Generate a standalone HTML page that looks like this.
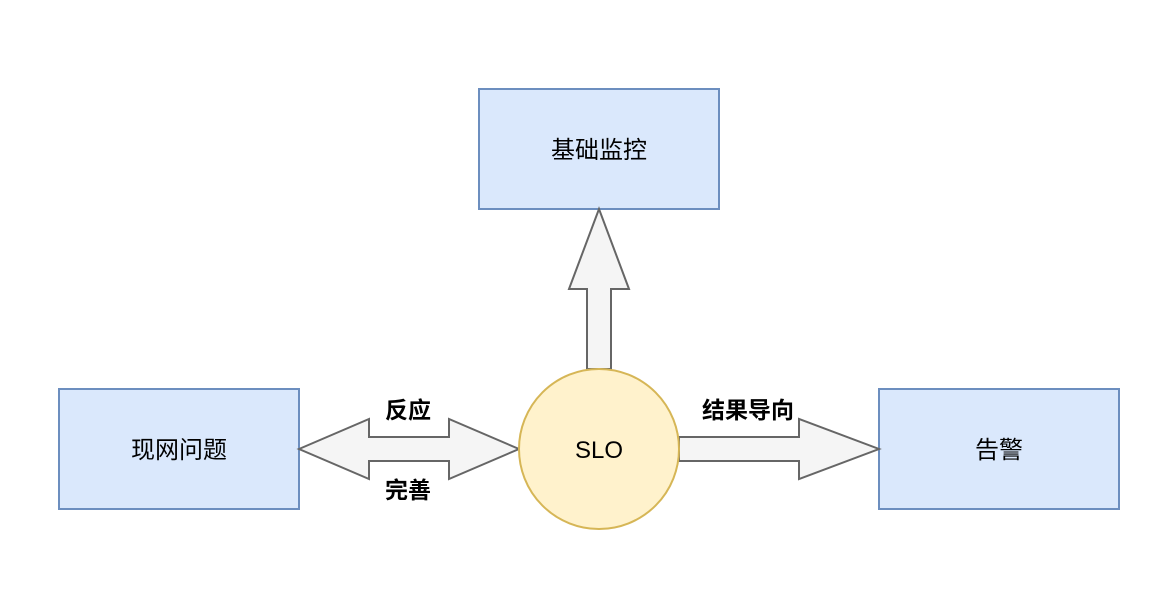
<!DOCTYPE html>
<html><head><meta charset="utf-8"><style>
html,body{margin:0;padding:0;background:#fff;}
svg text{font-family:"Liberation Sans","Noto Sans CJK SC",sans-serif;}
</style></head><body>
<svg width="1176" height="610" viewBox="0 0 1176 610" xmlns="http://www.w3.org/2000/svg">
<rect x="479" y="89" width="240" height="120" fill="#dae8fc" stroke="#6c8ebf" stroke-width="2"/>
<text x="599" y="158" font-size="24" text-anchor="middle">基础监控</text>
<rect x="59" y="389" width="240" height="120" fill="#dae8fc" stroke="#6c8ebf" stroke-width="2"/>
<text x="179" y="458" font-size="24" text-anchor="middle">现网问题</text>
<rect x="879" y="389" width="240" height="120" fill="#dae8fc" stroke="#6c8ebf" stroke-width="2"/>
<text x="999" y="458" font-size="24" text-anchor="middle">告警</text>
<polygon points="587,369 587,289 569,289 599,209 629,289 611,289 611,369" fill="#f5f5f5" stroke="#666" stroke-width="2"/>
<polygon points="299,449 369,419 369,437 449,437 449,419 519,449 449,479 449,461 369,461 369,479" fill="#f5f5f5" stroke="#666" stroke-width="2"/>
<polygon points="679,437 799,437 799,419 879,449 799,479 799,461 679,461" fill="#f5f5f5" stroke="#666" stroke-width="2"/>
<circle cx="599" cy="449" r="80" fill="#fff2cc" stroke="#d6b656" stroke-width="2"/>
<text x="599" y="458" font-size="24" text-anchor="middle">SLO</text>
<text x="408" y="418" font-size="23" font-weight="bold" text-anchor="middle">反应</text>
<text x="408" y="498" font-size="23" font-weight="bold" text-anchor="middle">完善</text>
<text x="748" y="418" font-size="23" font-weight="bold" text-anchor="middle">结果导向</text>
</svg>
</body></html>
